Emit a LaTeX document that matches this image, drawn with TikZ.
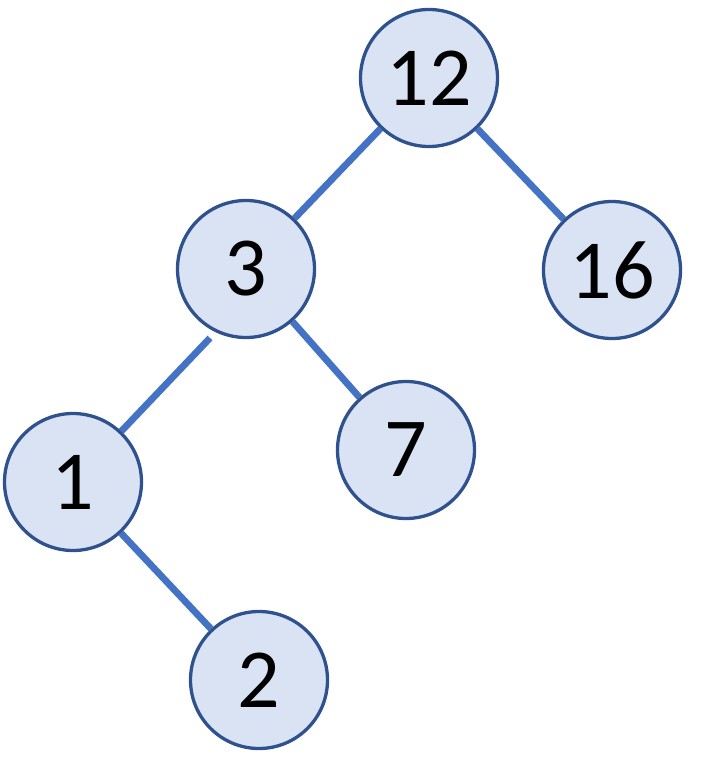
\documentclass[tikz,border=0pt]{standalone}
\usepackage{fontspec}
\setmainfont{Carlito}
\usetikzlibrary{backgrounds}
\definecolor{nodefill}{HTML}{DAE3F3}
\definecolor{nodeline}{HTML}{2F528F}
\definecolor{edgeline}{HTML}{4472C4}
\begin{document}
\begin{tikzpicture}[x=1pt,y=-1pt,
  treenode/.style={circle,draw=nodeline,fill=nodefill,line width=3.3pt,minimum size=137pt,inner sep=0pt,font=\fontsize{84}{84}\selectfont},
  edge/.style={draw=edgeline,line width=6.8pt}]
\useasboundingbox (0,0) rectangle (705,779);
\node[treenode] (n12) at (429,78) {12};
\node[treenode] (n3) at (246,269) {3};
\node[treenode] (n16) at (612,270) {16};
\node[treenode] (n1) at (73,482) {1};
\node[treenode] (n7) at (406,450) {7};
\node[treenode] (n2) at (259,680) {2};
\coordinate (e31) at (210,338);
\begin{scope}[on background layer]
\draw[edge] (n12) -- (n3);
\draw[edge] (n12) -- (n16);
\draw[edge] (n3) -- (n7);
\draw[edge] (e31) -- (n1);
\draw[edge] (n1) -- (n2);
\end{scope}
\end{tikzpicture}
\end{document}
